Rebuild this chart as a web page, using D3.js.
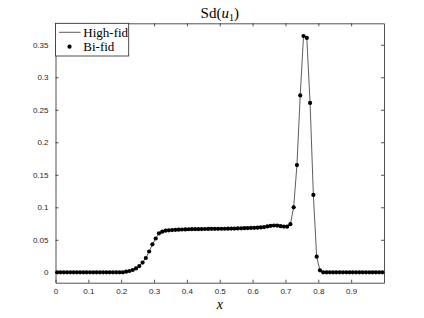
<!DOCTYPE html>
<html>
<head>
<meta charset="utf-8">
<script src="https://cdn.jsdelivr.net/npm/d3@7"></script>
<style>
  html, body { margin: 0; padding: 0; background: #fff; }
  svg { display: block; }
</style>
</head>
<body>
<div id="chart"></div>
<script>
// grid points (cell centres)
const xs = d3.range(100).map(i => 0.005 + 0.01 * i);

// Sd(u1), high-fidelity reference
const sdHigh = [
  0, 0, 0, 0, 0, 0, 0, 0, 0, 0,
  0, 0, 0, 0, 0, 0, 0, 0, 0, 0,
  0, 0.001, 0.002, 0.0035, 0.006, 0.0095, 0.015, 0.022, 0.032, 0.043,
  0.052, 0.060, 0.0625, 0.064, 0.0645, 0.065, 0.0653, 0.0656, 0.0658, 0.066,
  0.0662, 0.0663, 0.0664, 0.0664, 0.0665, 0.0666, 0.0667, 0.0668, 0.0668, 0.0669,
  0.067, 0.067, 0.0671, 0.0672, 0.0673, 0.0675, 0.0677, 0.0679, 0.068, 0.0682,
  0.0684, 0.0687, 0.069, 0.0695, 0.0705, 0.0715, 0.072, 0.0718, 0.071, 0.0703,
  0.0702, 0.074, 0.100, 0.165, 0.272, 0.3635, 0.3605, 0.2605, 0.119, 0.024,
  0.003, 0, 0, 0, 0, 0, 0, 0, 0, 0,
  0, 0, 0, 0, 0, 0, 0, 0, 0, 0
];

// Sd(u1), bi-fidelity estimate
const sdBi = [
  0, 0, 0, 0, 0, 0, 0, 0, 0, 0,
  0, 0, 0, 0, 0, 0, 0, 0, 0, 0,
  0, 0.001, 0.002, 0.0035, 0.006, 0.0095, 0.015, 0.022, 0.032, 0.043,
  0.052, 0.060, 0.0625, 0.064, 0.0645, 0.065, 0.0653, 0.0656, 0.0658, 0.066,
  0.0662, 0.0663, 0.0664, 0.0664, 0.0665, 0.0666, 0.0667, 0.0668, 0.0668, 0.0669,
  0.067, 0.067, 0.0671, 0.0672, 0.0673, 0.0675, 0.0677, 0.0679, 0.068, 0.0682,
  0.0684, 0.0687, 0.069, 0.0695, 0.0705, 0.0715, 0.072, 0.0718, 0.071, 0.0703,
  0.0702, 0.074, 0.100, 0.165, 0.272, 0.3635, 0.3605, 0.2605, 0.119, 0.024,
  0.003, 0, 0, 0, 0, 0, 0, 0, 0, 0,
  0, 0, 0, 0, 0, 0, 0, 0, 0, 0
];

const xTicks = [0, 0.1, 0.2, 0.3, 0.4, 0.5, 0.6, 0.7, 0.8, 0.9];
const yTicks = [0, 0.05, 0.1, 0.15, 0.2, 0.25, 0.3, 0.35];

const W = 424, H = 318;
const margin = {top: 23.3, right: 40, bottom: 35.3, left: 55.5};
const width = W - margin.left - margin.right;
const height = H - margin.top - margin.bottom;
const axisColor = "#262626";

const svg = d3.select("#chart").append("svg")
  .attr("width", W)
  .attr("height", H);

const g = svg.append("g")
  .attr("transform", "translate(" + margin.left + "," + margin.top + ")");

const x = d3.scaleLinear().domain([0, 1]).range([0, width]);
const y = d3.scaleLinear().domain([-0.016, 0.383]).range([height, 0]);

/// Axes (MATLAB style: inward ticks, full box) ///

const tickFont = "font-family: 'Liberation Sans', Arial, sans-serif; font-size: 8px;";

g.append("g")
  .attr("transform", "translate(0," + height + ")")
  .call(d3.axisBottom(x).tickValues(xTicks).tickSizeInner(-3).tickSizeOuter(0).tickPadding(5.5)
    .tickFormat(d => d3.format("")(d)))
  .call(a => a.selectAll("text").attr("style", tickFont).attr("fill", axisColor));

g.append("g")
  .call(d3.axisTop(x).tickValues(xTicks).tickSizeInner(-3).tickSizeOuter(0).tickFormat(""));

g.append("g")
  .call(d3.axisLeft(y).tickValues(yTicks).tickSizeInner(-3).tickSizeOuter(0).tickPadding(7)
    .tickFormat(d => d3.format("")(+d.toFixed(2))))
  .call(a => a.selectAll("text").attr("style", tickFont).attr("fill", axisColor));

g.append("g")
  .attr("transform", "translate(" + width + ",0)")
  .call(d3.axisRight(y).tickValues(yTicks).tickSizeInner(-3).tickSizeOuter(0).tickFormat(""));

g.selectAll(".domain").attr("stroke", axisColor).attr("stroke-width", 0.8);
g.selectAll(".tick line").attr("stroke", axisColor).attr("stroke-width", 0.8);

/// Data ///

const pts = xs.map((v, i) => ({x: v, hi: sdHigh[i], bi: sdBi[i]}));

g.append("path")
  .datum(pts)
  .attr("fill", "none")
  .attr("stroke", "#333")
  .attr("stroke-width", 0.8)
  .attr("d", d3.line().x(d => x(d.x)).y(d => y(d.hi)));

g.selectAll("circle.bi")
  .data(pts)
  .enter()
  .append("circle")
  .attr("class", "bi")
  .attr("cx", d => x(d.x))
  .attr("cy", d => y(d.bi))
  .attr("r", 2.1)
  .attr("fill", "#000");

/// Title & label ///

svg.append("text")
  .attr("x", margin.left + width / 2)
  .attr("y", 17.5)
  .attr("text-anchor", "middle")
  .attr("style", "font-family: 'Liberation Serif', serif; font-size: 15px;")
  .attr("fill", "#000")
  .call(t => {
    t.append("tspan").text("Sd(");
    t.append("tspan").attr("font-style", "italic").text("u");
    t.append("tspan").attr("font-size", "10px").attr("dy", 3).text("1");
    t.append("tspan").attr("dy", -3).text(")");
  });

svg.append("text")
  .attr("x", margin.left + width / 2)
  .attr("y", 309)
  .attr("text-anchor", "middle")
  .attr("style", "font-family: 'Liberation Serif', serif; font-size: 14px; font-style: italic;")
  .attr("fill", "#000")
  .text("x");

/// Legend ///

const leg = svg.append("g");
leg.append("rect")
  .attr("x", margin.left)
  .attr("y", margin.top)
  .attr("width", 73.2)
  .attr("height", 32.7)
  .attr("fill", "#fff")
  .attr("stroke", axisColor)
  .attr("stroke-width", 0.8);

leg.append("line")
  .attr("x1", 59).attr("x2", 80.7)
  .attr("y1", 32.3).attr("y2", 32.3)
  .attr("stroke", "#333")
  .attr("stroke-width", 0.8);

leg.append("circle")
  .attr("cx", 69.5).attr("cy", 46.7).attr("r", 2.1)
  .attr("fill", "#000");

const legFont = "font-family: 'Liberation Serif', serif; font-size: 13px;";
leg.append("text").attr("x", 83.3).attr("y", 36.5).attr("style", legFont).text("High-fid");
leg.append("text").attr("x", 83.3).attr("y", 51).attr("style", legFont).text("Bi-fid");
</script>
</body>
</html>
